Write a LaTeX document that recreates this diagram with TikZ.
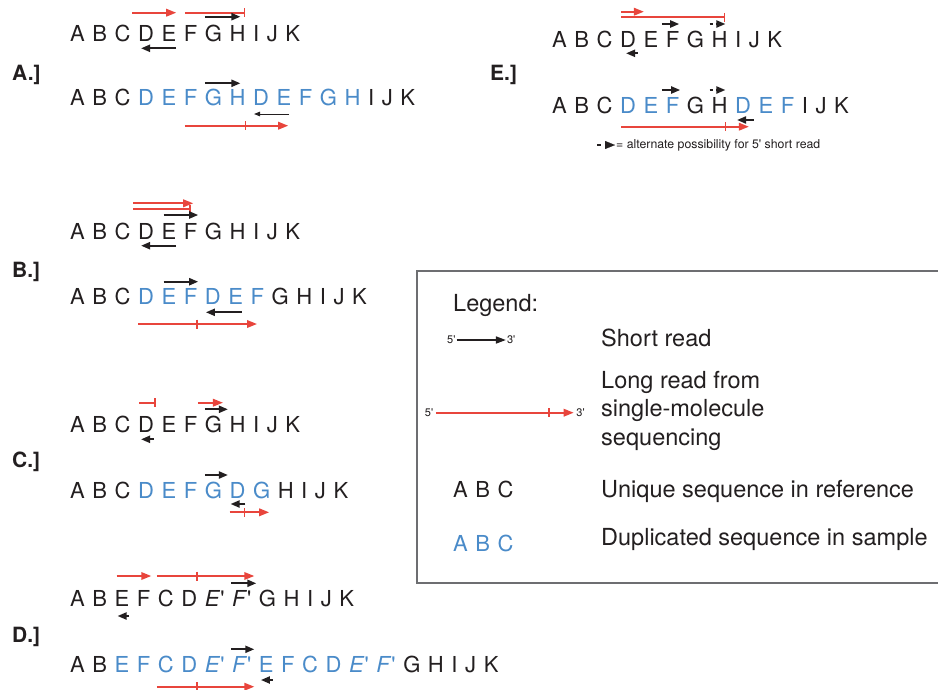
\documentclass[tikz,border=0pt]{standalone}
\usepackage{fontspec}
\setmainfont{TeX Gyre Heros}
\usetikzlibrary{arrows.meta,positioning,calc}

\definecolor{seqk}{HTML}{231F20}
\definecolor{seqb}{HTML}{4A8BC9}
\definecolor{readred}{HTML}{E8453C}
\definecolor{boxgray}{HTML}{6D6E71}

% horizontal space between two letters of a sequence
\newcommand\seqgap{7.6pt}

% one sequence: #1 name prefix, #2 x of first letter, #3 y of the letter middle,
% #4 list of letter/colour (k = reference, b = duplicated)
\newcommand\seqrow[4]{%
  \foreach \seqlet/\seqcol [count=\i, remember=\i as \j (initially 0)] in {#4} {%
    \ifnum\i=1
      \node[seqch, text=seq\seqcol, anchor=west] (#1-\i) at (#2,#3) {\seqlet};
    \else
      \node[seqch, text=seq\seqcol, right=\seqgap of #1-\j] (#1-\i) {\seqlet};
    \fi
  }}

% a read drawn at height #6 from anchor #2 (+#3) to anchor #4 (+#5)
\newcommand\seqread[6]{%
  \draw[#1] ($(#2 |- 0,#6)+(#3,0)$) -- ($(#4 |- 0,#6)+(#5,0)$);}

% junction mark on a long read
\newcommand\midtick[3]{%
  \draw[lrtick] ($(#1 |- 0,#3)+(#2,-4.5)$) -- ++(0,9);}

% alternative short read: a dash followed by a head
\newcommand\altread[5]{%
  \draw[seqk, line width=2pt] ($(#1 |- 0,#5)+(#2,0)$) -- ++(3.5,0);
  \draw[sr] ($(#3 |- 0,#5)+(#4-9.5,0)$) -- ($(#3 |- 0,#5)+(#4,0)$);}

\tikzset{
  seqch/.style={inner sep=0pt, outer sep=0pt, text height=15.8pt, text depth=0pt,
    font=\fontsize{22}{26}\selectfont},
  sr/.style={seqk, line width=2pt, -{Triangle[length=9pt,width=7pt]}},
  thinsr/.style={seqk, line width=1pt, -{Triangle[length=6pt,width=4.5pt]}},
  lr/.style={readred, line width=1.8pt, -{Triangle[length=10pt,width=7.5pt]}},
  lrbar/.style={readred, line width=1.8pt, -{Bar[width=9pt]}},
  lrtick/.style={readred, line width=1.8pt},
  lbl/.style={font=\bfseries\fontsize{21}{24}\selectfont, text=seqk, inner sep=0pt,
    text height=15pt, text depth=0pt, anchor=west},
  legtxt/.style={font=\fontsize{23.5}{28}\selectfont, text=seqk, inner sep=0pt,
    anchor=base west},
  small/.style={font=\fontsize{11}{13}\selectfont, text=seqk, inner ysep=0.5pt},
}

\begin{document}
\begin{tikzpicture}[x=1pt,y=-1pt]
\fill[white] (0,0) rectangle (938,689);
\useasboundingbox (0,0) rectangle (938,689);

% ---------- panel labels ----------
\node[lbl] (labA) at (12,72.5) {A.]};
\node[lbl] (labB) at (12,270) {B.]};
\node[lbl] (labC) at (12,459.5) {C.]};
\node[lbl] (labD) at (12,635) {D.]};
\node[lbl] (labE) at (490,72.5) {E.]};

% ---------- sequences ----------
\seqrow{A1}{70}{34}{A/k,B/k,C/k,D/k,E/k,F/k,G/k,H/k,I/k,J/k,K/k}
\seqrow{A2}{70}{98}{A/k,B/k,C/k,D/b,E/b,F/b,G/b,H/b,D/b,E/b,F/b,G/b,H/b,I/k,J/k,K/k}
\seqrow{B1}{70}{231.5}{A/k,B/k,C/k,D/k,E/k,F/k,G/k,H/k,I/k,J/k,K/k}
\seqrow{B2}{70}{297}{A/k,B/k,C/k,D/b,E/b,F/b,D/b,E/b,F/b,G/k,H/k,I/k,J/k,K/k}
\seqrow{C1}{70}{425}{A/k,B/k,C/k,D/k,E/k,F/k,G/k,H/k,I/k,J/k,K/k}
\seqrow{C2}{70}{490.5}{A/k,B/k,C/k,D/b,E/b,F/b,G/b,D/b,G/b,H/k,I/k,J/k,K/k}
\seqrow{D1}{70}{598.3}{A/k,B/k,E/k,F/k,C/k,D/k,\textit{E}\textquotesingle/k,\textit{F}\textquotesingle/k,G/k,H/k,I/k,J/k,K/k}
\seqrow{D2}{70}{665}{A/k,B/k,E/b,F/b,C/b,D/b,\textit{E}\textquotesingle/b,\textit{F}\textquotesingle/b,E/b,F/b,C/b,D/b,\textit{E}\textquotesingle/b,\textit{F}\textquotesingle/b,G/k,H/k,I/k,J/k,K/k}
\seqrow{E1}{552}{39.2}{A/k,B/k,C/k,D/k,E/k,F/k,G/k,H/k,I/k,J/k,K/k}
\seqrow{E2}{552}{105.8}{A/k,B/k,C/k,D/b,E/b,F/b,G/k,H/k,D/b,E/b,F/b,I/k,J/k,K/k}

% ---------- reads, panel A ----------
\seqread{lr}{A1-4.west}{-6}{A1-5.east}{0}{12.7}
\seqread{lrbar}{A1-6.west}{1}{A1-8.east}{0}{12.7}
\seqread{sr}{A1-7.west}{0}{A1-8.east}{-5}{16.7}
\seqread{sr}{A1-5.east}{0}{A1-4.west}{3}{48.3}

\seqread{sr}{A2-7.west}{0}{A2-8.east}{-5}{83.3}
\seqread{thinsr}{A2-10.east}{-2}{A2-9.west}{1}{114}
\seqread{lr}{A2-6.west}{1}{A2-10.east}{-3}{125.7}
\midtick{A2-8.east}{0}{125.7}

% ---------- reads, panel B ----------
\seqread{lr}{B1-4.west}{-5}{B1-6.east}{-4}{203.3}
\seqread{lrbar}{B1-4.west}{-5}{B1-6.east}{-6}{209.3}
\seqread{sr}{B1-5.west}{2}{B1-6.east}{1}{215}
\seqread{sr}{B1-5.east}{0}{B1-4.west}{3}{245.7}

\seqread{sr}{B2-5.west}{2}{B2-6.east}{1}{281.7}
\seqread{sr}{B2-8.east}{-1}{B2-7.west}{1}{312.3}
\seqread{lr}{B2-4.west}{0}{B2-9.east}{-7}{324}
\midtick{B2-6.east}{0}{324}

% ---------- reads, panel C ----------
\seqread{lrbar}{C1-4.west}{1}{C1-4.east}{2}{402.7}
\seqread{lr}{C1-7.west}{-7}{C1-7.east}{1}{402.7}
\seqread{sr}{C1-7.west}{0}{C1-7.east}{6}{409.3}
\seqread{sr}{C1-4.east}{0}{C1-4.west}{3}{439.3}

\seqread{sr}{C2-7.west}{0}{C2-7.east}{6}{475}
\seqread{sr}{C2-8.east}{0}{C2-8.west}{1}{504}
\seqread{lr}{C2-8.west}{0}{C2-9.east}{-1}{512.3}
\midtick{C2-8.east}{-1}{512.3}

% ---------- reads, panel D ----------
\seqread{lr}{D1-3.west}{2}{D1-4.east}{1}{576}
\seqread{lr}{D1-5.west}{-1}{D1-8.east}{3}{576}
\midtick{D1-6.east}{0}{576}
\seqread{sr}{D1-8.west}{-1}{D1-8.east}{5}{583.3}
\seqread{sr}{D1-3.east}{0}{D1-3.west}{3}{616}

\seqread{sr}{D2-8.west}{-1}{D2-8.east}{3}{649.3}
\seqread{sr}{D2-9.east}{-1}{D2-9.west}{2}{680}
\seqread{lr}{D2-5.west}{-1}{D2-8.east}{3}{686.7}
\midtick{D2-6.east}{0}{686.7}

% ---------- reads, panel E ----------
\seqread{lr}{E1-4.west}{1}{E1-4.east}{8}{11.7}
\seqread{lrbar}{E1-4.west}{1}{E1-8.east}{-2}{17.3}
\seqread{sr}{E1-6.west}{-4}{E1-6.east}{0}{24}
\altread{E1-8.west}{-2}{E1-8.east}{-2}{24}
\seqread{sr}{E1-4.east}{2}{E1-4.west}{6}{53.3}

\seqread{sr}{E2-6.west}{-4}{E2-6.east}{1}{90}
\altread{E2-8.west}{-2}{E2-8.east}{-2}{90}
\seqread{lr}{E2-4.west}{1}{E2-9.east}{-2}{126.7}
\midtick{E2-8.east}{-2}{126.7}
\seqread{sr}{E2-9.east}{3}{E2-9.west}{2}{120}

% note on the dashed reads
\node[font=\fontsize{12.3}{14}\selectfont, text=seqk, inner sep=0pt, anchor=base west]
  (altnote) at (616,148.5) {= alternate possibility for 5\textquotesingle{} short read};
\draw[seqk, line width=2pt] ($(altnote.west |- 0,145)+(-19,0)$) -- ++(3.5,0);
\draw[seqk, line width=0.1pt, -{Triangle[length=10pt,width=8pt]}]
  ($(altnote.west |- 0,145)+(-11,0)$) -- ($(altnote.west |- 0,145)+(-1,0)$);

% ---------- legend ----------
\draw[boxgray, line width=1.2pt] (938,271) -- (417,271) -- (417,583) -- (938,583);
\node[legtxt] (legT) at (453,311.7) {Legend:};

\node[small, inner xsep=1pt] (s5) at (451.3,340) {5\textquotesingle};
\node[small, inner xsep=1pt] (s3) at (511.2,340) {3\textquotesingle};
\draw[sr, line width=1.6pt, -{Triangle[length=10pt,width=7pt]}] (s5.east) -- (s3.west);
\node[legtxt] (legS) at (601,346.7) {Short read};

\node[small, inner xsep=2.5pt] (l5) at (429,412.7) {5\textquotesingle};
\node[small, inner xsep=2.5pt] (l3) at (580.5,412.7) {3\textquotesingle};
\draw[lr] (l5.east) -- (l3.west);
\draw[lrtick] ($(l3.west)+(-25,-4.5)$) -- ++(0,9);
\node[legtxt] (legL1) at (601,388.3) {Long read from};
\node[legtxt] (legL2) at (601,416.7) {single-molecule};
\node[legtxt] (legL3) at (601,445) {sequencing};

\seqrow{LK}{453}{489.5}{A/k,B/k,C/k}
\node[legtxt] (legU) at (601,497.3) {Unique sequence in reference};
\seqrow{LB}{453}{543.3}{A/b,B/b,C/b}
\node[legtxt] (legD) at (601,545) {Duplicated sequence in sample};
\end{tikzpicture}
\end{document}
